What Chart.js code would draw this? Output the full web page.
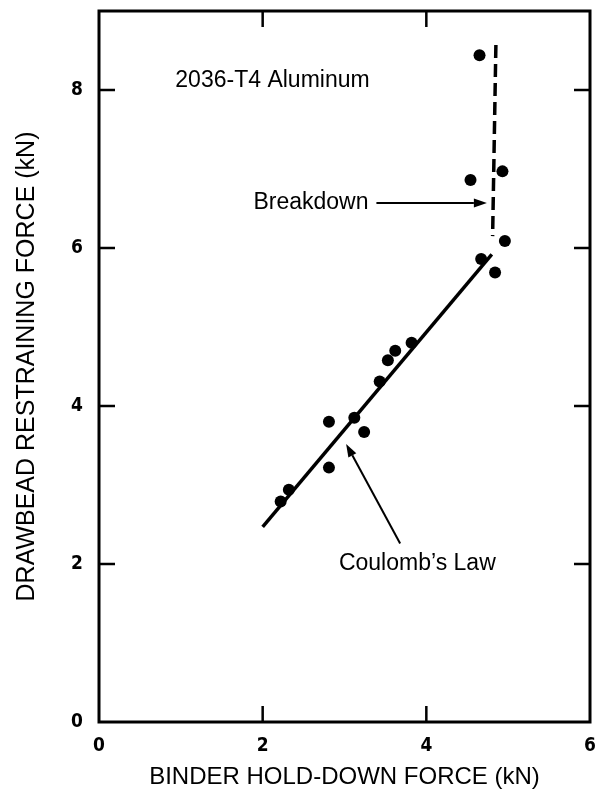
<!DOCTYPE html>
<html>
<head>
<meta charset="utf-8">
<script src="https://cdn.jsdelivr.net/npm/chart.js@4.4.1/dist/chart.umd.min.js"></script>
<style>
  html, body { margin: 0; padding: 0; background: #fff; }
  canvas { display: block; }
</style>
</head>
<body>
<canvas id="chart" width="596" height="800"></canvas>
<script>
// measured points (kN)
const binderForce = [2.22, 2.32, 2.81, 2.81, 3.12, 3.24, 3.43, 3.53, 3.62, 3.82, 4.67, 4.84, 4.96, 4.54, 4.93, 4.65];
const restrainingForce = [2.79, 2.94, 3.22, 3.80, 3.85, 3.67, 4.31, 4.58, 4.70, 4.80, 5.86, 5.69, 6.09, 6.86, 6.97, 8.44];

// Coulomb's law fit and breakdown line
const coulombX = [2.0, 4.8];
const coulombY = [2.47, 5.92];
const breakdownX = [4.85, 4.81];
const breakdownY = [8.57, 6.15];

const xTicks = [0, 2, 4, 6];
const yTicks = [0, 2, 4, 6, 8];

const toPoints = (xs, ys) => xs.map((x, i) => ({ x: x, y: ys[i] }));

// text labels and arrows, in data units
const labels = [
    { text: '2036-T4 Aluminum', x: 2.12, y: 8.12 },
    { text: 'Breakdown', x: 2.59, y: 6.57 },
    { text: 'Coulomb\u2019s Law', x: 3.89, y: 2.01 }
];
const arrows = [
    { from: [3.39, 6.57], to: [4.74, 6.57] },
    { from: [3.68, 2.26], to: [3.02, 3.52] }
];

const frameAndNotes = {
    id: 'frameAndNotes',
    afterDatasetsDraw(chart) {
        const ctx = chart.ctx;
        const area = chart.chartArea;
        const xs = chart.scales.x;
        const ys = chart.scales.y;
        const tick = 16;

        ctx.save();
        ctx.strokeStyle = '#000';
        ctx.lineWidth = 3;
        ctx.strokeRect(area.left, area.top, area.right - area.left, area.bottom - area.top);

        ctx.lineWidth = 2.5;
        ctx.beginPath();
        xTicks.slice(1, -1).forEach(v => {
            const px = xs.getPixelForValue(v);
            ctx.moveTo(px, area.bottom); ctx.lineTo(px, area.bottom - tick);
            ctx.moveTo(px, area.top); ctx.lineTo(px, area.top + tick);
        });
        yTicks.slice(1).forEach(v => {
            const py = ys.getPixelForValue(v);
            ctx.moveTo(area.left, py); ctx.lineTo(area.left + tick, py);
            ctx.moveTo(area.right, py); ctx.lineTo(area.right - tick, py);
        });
        ctx.stroke();

        // labels
        ctx.fillStyle = '#000';
        ctx.font = '23px "Liberation Sans", Arial, sans-serif';
        ctx.textAlign = 'center';
        ctx.textBaseline = 'middle';
        labels.forEach(l => {
            ctx.fillText(l.text, xs.getPixelForValue(l.x), ys.getPixelForValue(l.y));
        });

        // arrows
        ctx.lineWidth = 2;
        arrows.forEach(a => {
            const x1 = xs.getPixelForValue(a.from[0]), y1 = ys.getPixelForValue(a.from[1]);
            const x2 = xs.getPixelForValue(a.to[0]), y2 = ys.getPixelForValue(a.to[1]);
            const ang = Math.atan2(y2 - y1, x2 - x1);
            const len = 13, half = 4.5;
            const bx = x2 - len * Math.cos(ang), by = y2 - len * Math.sin(ang);
            ctx.beginPath();
            ctx.moveTo(x1, y1); ctx.lineTo(bx, by);
            ctx.stroke();
            ctx.beginPath();
            ctx.moveTo(x2, y2);
            ctx.lineTo(bx + half * Math.sin(ang), by - half * Math.cos(ang));
            ctx.lineTo(bx - half * Math.sin(ang), by + half * Math.cos(ang));
            ctx.closePath();
            ctx.fill();
        });
        ctx.restore();
    }
};

const tickFont = { family: '"Liberation Sans Narrow", "DejaVu Sans Condensed", Arial, sans-serif', size: 19, weight: 'bold' };

// keep the plot box where the reference has it
const noEdgePadding = s => {
    s.paddingLeft = 0; s.paddingRight = 0;
    s.paddingTop = 0; s.paddingBottom = 0;
};

new Chart(document.getElementById('chart').getContext('2d'), {
    type: 'scatter',
    data: {
        datasets: [
            {
                label: 'Data',
                data: toPoints(binderForce, restrainingForce),
                backgroundColor: '#000',
                borderColor: '#000',
                pointRadius: 6,
                pointBorderWidth: 0
            },
            {
                label: 'Coulomb',
                data: toPoints(coulombX, coulombY),
                showLine: true,
                borderColor: '#000',
                borderWidth: 3.5,
                pointRadius: 0
            },
            {
                label: 'Breakdown',
                data: toPoints(breakdownX, breakdownY),
                showLine: true,
                borderColor: '#000',
                borderWidth: 3.5,
                borderDash: [13, 6],
                pointRadius: 0
            }
        ]
    },
    options: {
        responsive: false,
        animation: false,
        devicePixelRatio: 1,
        layout: { padding: { top: 11, right: 5, left: 0, bottom: 0 } },
        plugins: {
            legend: { display: false },
            tooltip: { enabled: false }
        },
        scales: {
            x: {
                type: 'linear',
                min: 0,
                max: 6,
                afterBuildTicks: s => { s.ticks = xTicks.map(v => ({ value: v })); },
                afterFit: s => { s.height = 78; noEdgePadding(s); },
                grid: { display: false, drawTicks: false },
                border: { display: false },
                ticks: { color: '#000', font: tickFont, padding: 13 },
                title: {
                    display: true,
                    text: 'BINDER HOLD-DOWN FORCE (kN)',
                    color: '#000',
                    font: { family: '"Liberation Sans", Arial, sans-serif', size: 24 },
                    padding: { top: 0, bottom: 8 }
                }
            },
            y: {
                type: 'linear',
                min: 0,
                max: 9,
                afterBuildTicks: s => { s.ticks = yTicks.map(v => ({ value: v })); },
                afterFit: s => { s.width = 99; noEdgePadding(s); },
                grid: { display: false, drawTicks: false },
                border: { display: false },
                ticks: { color: '#000', font: tickFont, padding: 16 },
                title: {
                    display: true,
                    text: 'DRAWBEAD RESTRAINING FORCE (kN)',
                    color: '#000',
                    font: { family: '"Liberation Sans", Arial, sans-serif', size: 25 },
                    padding: { top: 12, bottom: 0 }
                }
            }
        }
    },
    plugins: [frameAndNotes]
});
</script>
</body>
</html>
